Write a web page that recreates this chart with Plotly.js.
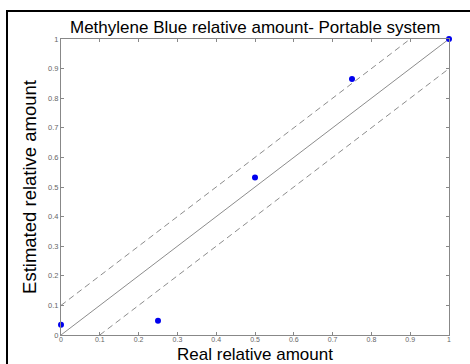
<!DOCTYPE html>
<html><head><meta charset="utf-8">
<script src="https://cdn.plot.ly/plotly-3.0.1.min.js"></script>
<style>
html,body{margin:0;padding:0;background:#fff;}
#wrap{position:relative;width:470px;height:364px;overflow:hidden;}
#chart{width:470px;height:364px;}
#frame{position:absolute;left:6px;top:10px;width:470px;height:360px;border-top:2px solid #000;border-left:2px solid #000;pointer-events:none;}
</style></head>
<body>
<div id="wrap"><div id="chart"></div><div id="frame"></div></div>
<script>
const realAmount = [0, 0.25, 0.5, 0.75, 1];
const estimatedAmount = [0.035, 0.048, 0.532, 0.865, 1.0];
const identityX = [0, 1];
const identityY = [0, 1];
const upperX = [0, 0.9];
const upperY = [0.1, 1];
const lowerX = [0.1, 1];
const lowerY = [0, 0.9];
const tickVals = [0, 0.1, 0.2, 0.3, 0.4, 0.5, 0.6, 0.7, 0.8, 0.9, 1];
const tickText = ['0', '0.1', '0.2', '0.3', '0.4', '0.5', '0.6', '0.7', '0.8', '0.9', '1'];

const lineColor = '#8c8c8c';
const traces = [
  {x: identityX, y: identityY, mode: 'lines', line: {color: lineColor, width: 1}, hoverinfo: 'skip'},
  {x: upperX, y: upperY, mode: 'lines', line: {color: lineColor, width: 1, dash: '6px,4px'}, hoverinfo: 'skip'},
  {x: lowerX, y: lowerY, mode: 'lines', line: {color: lineColor, width: 1, dash: '6px,4px'}, hoverinfo: 'skip'},
  {x: realAmount, y: estimatedAmount, mode: 'markers', marker: {color: '#0000ee', size: 6}, cliponaxis: false}
];

const axisCommon = {
  range: [0, 1], tickvals: tickVals, ticktext: tickText,
  ticks: 'inside', ticklen: 3, tickcolor: '#888', tickwidth: 1,
  showline: true, linecolor: '#888', linewidth: 1, mirror: 'ticks',
  showgrid: false, zeroline: false,
  tickfont: {family: 'Liberation Sans, Arial, sans-serif', size: 7.5, color: '#666'},
  automargin: false
};

const layout = {
  width: 470, height: 364,
  margin: {l: 61, r: 21, t: 39, b: 29},
  paper_bgcolor: '#fff', plot_bgcolor: '#fff',
  showlegend: false,
  title: {text: 'Methylene Blue relative amount- Portable system',
    font: {family: 'Liberation Sans, Arial, sans-serif', size: 17, color: '#000'},
    x: 0.543, xanchor: 'center', y: 0.925, yanchor: 'middle'},
  xaxis: Object.assign({}, axisCommon, {
    ticklabelstandoff: -2,
    tickfont: {family: 'Liberation Sans, Arial, sans-serif', size: 7, color: '#666'},
    title: {text: 'Real relative amount', standoff: 7,
      font: {family: 'Liberation Sans, Arial, sans-serif', size: 17, color: '#000'}}
  }),
  yaxis: Object.assign({}, axisCommon, {
    title: {text: 'Estimated relative amount', standoff: 6,
      font: {family: 'Liberation Sans, Arial, sans-serif', size: 18.5, color: '#000'}}
  })
};

Plotly.newPlot('chart', traces, layout, {staticPlot: true, displayModeBar: false});
</script>
</body></html>
